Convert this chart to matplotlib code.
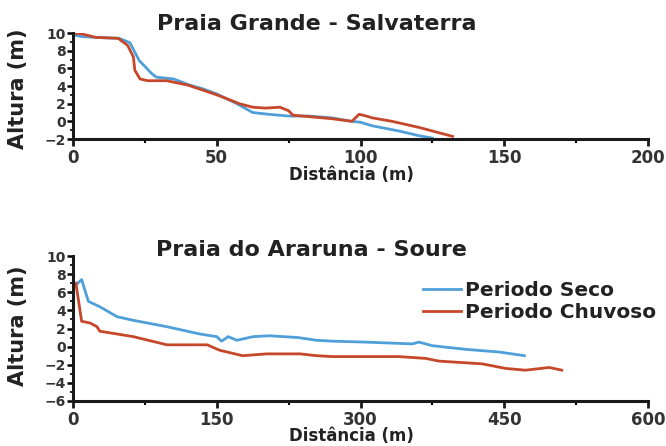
import numpy as np
import matplotlib
matplotlib.use("Agg")
import matplotlib.pyplot as plt
from matplotlib.ticker import MultipleLocator

# Praia Grande - Salvaterra (distance m, height m)
pg_seco_x = [0, 3, 8, 16, 19.8, 23, 27.4, 29, 35, 40.6, 45, 50, 57, 62.5, 68, 75, 82, 90, 97, 100, 104, 113.5, 120, 125]
pg_seco_y = [9.8, 9.6, 9.5, 9.4, 8.9, 6.9, 5.4, 5.0, 4.8, 4.1, 3.7, 3.1, 2.0, 1.0, 0.8, 0.6, 0.6, 0.4, 0.0, -0.1, -0.5, -1.1, -1.6, -1.9]
pg_chuv_x = [0, 3, 8, 15.7, 19, 21, 21.5, 23.3, 26, 32.6, 40, 50, 55.6, 57.8, 62.5, 67, 72, 75, 76.5, 90, 97, 99.5, 102, 104, 111, 120.5, 132]
pg_chuv_y = [10, 9.9, 9.5, 9.4, 8.6, 7.3, 5.8, 4.8, 4.6, 4.6, 4.1, 3.0, 2.3, 2.0, 1.6, 1.5, 1.6, 1.2, 0.7, 0.3, 0.0, 0.8, 0.6, 0.4, 0.0, -0.7, -1.7]

# Praia do Araruna - Soure
pa_seco_x = [3, 9, 16, 28, 46, 63, 98, 132, 150, 155, 162, 171, 188, 205, 235, 254, 271, 305, 354, 361, 375, 410, 445, 471]
pa_seco_y = [6.8, 7.4, 5.0, 4.4, 3.3, 2.9, 2.2, 1.4, 1.1, 0.6, 1.1, 0.7, 1.1, 1.2, 1.0, 0.7, 0.6, 0.5, 0.3, 0.5, 0.1, -0.3, -0.6, -1.0]
pa_chuv_x = [3, 9, 18, 25, 28, 63, 98, 140, 153, 177, 202, 237, 254, 271, 305, 340, 368, 382, 427, 451, 472, 497, 510]
pa_chuv_y = [7.0, 2.8, 2.6, 2.2, 1.7, 1.1, 0.2, 0.2, -0.4, -1.0, -0.8, -0.8, -1.0, -1.1, -1.1, -1.1, -1.3, -1.6, -1.9, -2.4, -2.6, -2.3, -2.6]

blue = "#4f9fd9"
red = "#c6472a"
txt = "#222222"

fig = plt.figure(figsize=(6.66, 4.46), dpi=100)
ax1 = fig.add_axes([0.1096, 0.6883, 0.8634, 0.2377])
ax2 = fig.add_axes([0.1096, 0.1009, 0.8634, 0.3251])


def style(ax, xmax, xstep, ymin):
    ax.set_xlim(0, xmax)
    ax.set_ylim(ymin, 10)
    for s in ["top", "right"]:
        ax.spines[s].set_visible(False)
    for s in ["left", "bottom"]:
        ax.spines[s].set_linewidth(2.2)
        ax.spines[s].set_color("#1a1a1a")
    ax.xaxis.set_major_locator(MultipleLocator(xstep))
    ax.xaxis.set_minor_locator(MultipleLocator(xstep / 2))
    ax.yaxis.set_major_locator(MultipleLocator(2))
    ax.yaxis.set_minor_locator(MultipleLocator(1))
    ax.tick_params(axis="x", which="major", length=5, width=2, labelsize=12, pad=2, colors="#1a1a1a")
    ax.tick_params(axis="x", which="minor", length=3, width=1.5)
    ax.tick_params(axis="y", which="major", length=4, width=1.8, labelsize=10, pad=1)
    ax.tick_params(axis="y", which="minor", length=2.5, width=1.2)
    for lab in ax.get_xticklabels() + ax.get_yticklabels():
        lab.set_fontweight("bold")
        lab.set_color("#333333")


ax1.plot(pg_seco_x, pg_seco_y, color=blue, lw=2.0)
ax1.plot(pg_chuv_x, pg_chuv_y, color=red, lw=2.0)
style(ax1, 200, 50, -2)

ax2.plot(pa_seco_x, pa_seco_y, color=blue, lw=2.0, label="Periodo Seco")
ax2.plot(pa_chuv_x, pa_chuv_y, color=red, lw=2.0, label="Periodo Chuvoso")
style(ax2, 600, 150, -6)
leg = ax2.legend(loc="center left", bbox_to_anchor=(0.594, 0.685), frameon=False,
                 prop={"weight": "bold", "size": 14.5}, handlelength=1.9,
                 handletextpad=0.2, labelspacing=0.18, borderaxespad=0)
for t in leg.get_texts():
    t.set_color(txt)

# titles
fig.text(0.475, 0.946, "Praia Grande - Salvaterra", ha="center", va="center", fontsize=16, fontweight="bold", color=txt)
fig.text(0.467, 0.44, "Praia do Araruna - Soure", ha="center", va="center", fontsize=16, fontweight="bold", color=txt)

# axis labels
fig.text(0.027, 0.8, "Altura (m)", rotation=90, ha="center", va="center", fontsize=15, fontweight="bold", color=txt)
fig.text(0.027, 0.27, "Altura (m)", rotation=90, ha="center", va="center", fontsize=15, fontweight="bold", color=txt)
fig.text(0.527, 0.607, "Distância (m)", ha="center", va="center", fontsize=12, fontweight="bold", color=txt)
fig.text(0.527, 0.022, "Distância (m)", ha="center", va="center", fontsize=12, fontweight="bold", color=txt)

fig.savefig("out.png", dpi=100)
